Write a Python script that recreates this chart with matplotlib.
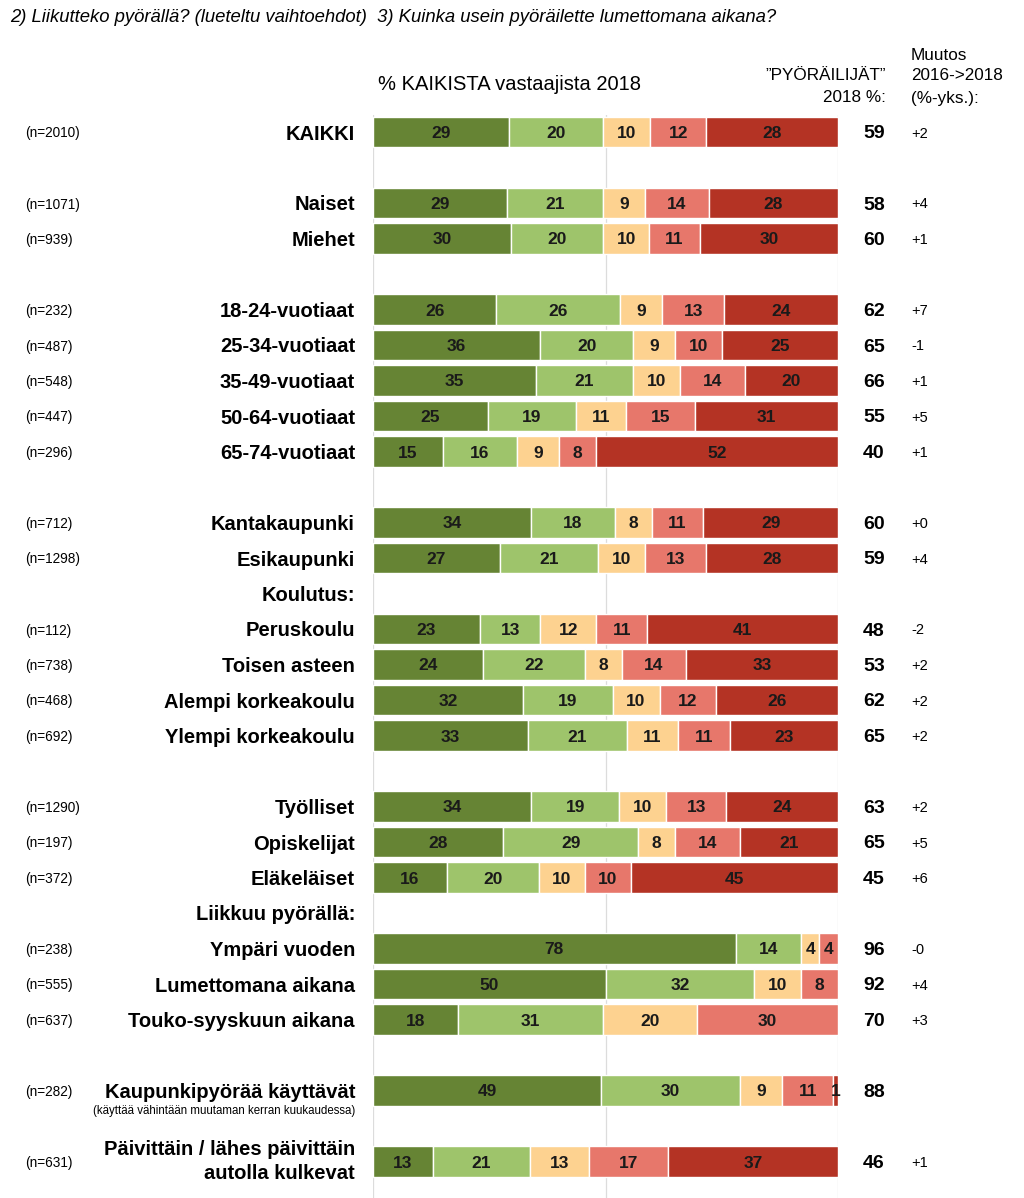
import matplotlib
matplotlib.use("Agg")
import matplotlib.pyplot as plt
from matplotlib import font_manager as fm

names = {f.name for f in fm.fontManager.ttflist}
NARROW = "Liberation Sans Narrow" if "Liberation Sans Narrow" in names else "Liberation Sans"
plt.rcParams['font.family'] = ['Liberation Sans', 'DejaVu Sans']

# ---------------- data ----------------
labels = ["KAIKKI", "Naiset", "Miehet", "18-24-vuotiaat", "25-34-vuotiaat",
          "35-49-vuotiaat", "50-64-vuotiaat", "65-74-vuotiaat", "Kantakaupunki",
          "Esikaupunki", "Peruskoulu", "Toisen asteen", "Alempi korkeakoulu",
          "Ylempi korkeakoulu", "Työlliset", "Opiskelijat", "Eläkeläiset",
          "Ympäri vuoden", "Lumettomana aikana", "Touko-syyskuun aikana",
          "Kaupunkipyörää käyttävät", "Päivittäin / lähes päivittäin\nautolla kulkevat"]
rows = [0, 2, 3, 5, 6, 7, 8, 9, 11, 12, 14, 15, 16, 17, 19, 20, 21, 23, 24, 25, 27, 29]
n_values = [2010, 1071, 939, 232, 487, 548, 447, 296, 712, 1298, 112, 738, 468, 692,
            1290, 197, 372, 238, 555, 637, 282, 631]
s1 = [29, 29, 30, 26, 36, 35, 25, 15, 34, 27, 23, 24, 32, 33, 34, 28, 16, 78, 50, 18, 49, 13]
s2 = [20, 21, 20, 26, 20, 21, 19, 16, 18, 21, 13, 22, 19, 21, 19, 29, 20, 14, 32, 31, 30, 21]
s3 = [10, 9, 10, 9, 9, 10, 11, 9, 8, 10, 12, 8, 10, 11, 10, 8, 10, 4, 10, 20, 9, 13]
s4 = [12, 14, 11, 13, 10, 14, 15, 8, 11, 13, 11, 14, 12, 11, 13, 14, 10, 4, 8, 30, 11, 17]
s5 = [28, 28, 30, 24, 25, 20, 31, 52, 29, 28, 41, 33, 26, 23, 24, 21, 45, 0, 0, 0, 1, 37]
cyclists = [59, 58, 60, 62, 65, 66, 55, 40, 60, 59, 48, 53, 62, 65, 63, 65, 45, 96, 92, 70, 88, 46]
change = ["+2", "+4", "+1", "+7", "-1", "+1", "+5", "+1", "+0", "+4", "-2", "+2", "+2", "+2",
          "+2", "+5", "+6", "-0", "+4", "+3", "", "+1"]
section_labels = ["Koulutus:", "Liikkuu pyörällä:"]
section_rows = [13, 22]

colors = ["#668434", "#9ec46b", "#fdd290", "#e7776b", "#b43324"]

# ---------------- figure ----------------
W, H = 1024, 1198
fig = plt.figure(figsize=(W / 100, H / 100), dpi=100)
x0, x1 = 373, 838
top_px, bot_px = 115, 1198
row0, step = 132, 35.5
ax = fig.add_axes([x0 / W, 1 - bot_px / H, (x1 - x0) / W, (bot_px - top_px) / H])
ax.set_xlim(0, 100)
ax.set_ylim((bot_px - row0) / step, (top_px - row0) / step)
ax.axis("off")

pxu = (x1 - x0) / 100.0  # pixels per data unit
def xu(px):
    return (px - x0) / pxu

for gx in (0, 50, 100):
    ax.axvline(gx, color="#dcdcdc", lw=0.9, zorder=0)

LABEL_FS = 14.5
series = [s1, s2, s3, s4, s5]
for i, r in enumerate(rows):
    vals = [s[i] for s in series]
    tot = sum(vals)
    left = 0.0
    for k, v in enumerate(vals):
        if v <= 0:
            continue
        w = v / tot * 100
        ax.barh(r, w, left=left, height=0.86, color=colors[k], edgecolor="white",
                linewidth=1.0, zorder=2)
        ax.text(left + w / 2, r, str(v), ha="center", va="center_baseline", fontsize=12.5,
                fontweight="bold", color="#1a1a1a", zorder=3, clip_on=False)
        left += w
    lab = labels[i]
    ax.text(xu(355), r, lab, ha="right", va="center" if "\n" in lab else "center_baseline",
            fontsize=LABEL_FS, fontweight="bold", linespacing=1.3, clip_on=False)
    ax.text(xu(25), r, f"(n={n_values[i]})", ha="left", va="center_baseline", fontsize=9.8,
            family=[NARROW, "DejaVu Sans"], clip_on=False)
    ax.text(xu(874), r, str(cyclists[i]), ha="center", va="center_baseline", fontsize=14,
            fontweight="bold", clip_on=False)
    if change[i]:
        ax.text(xu(911), r, change[i], ha="left", va="center_baseline", fontsize=10.5,
                clip_on=False)

# subtitle for city bike row
ax.text(xu(355), 27 + 19 / step, "(käyttää vähintään muutaman kerran kuukaudessa)",
        ha="right", va="center_baseline", fontsize=8.3, family=[NARROW, "DejaVu Sans"],
        clip_on=False)

for lab, r in zip(section_labels, section_rows):
    ax.text(xu(355), r, lab, ha="right", va="center_baseline", fontsize=LABEL_FS,
            fontweight="bold", clip_on=False)

# headers (figure pixel coordinates)
def ft(xp, yp, s, **kw):
    fig.text(xp / W, 1 - yp / H, s, **kw)

ft(10, 18, "2) Liikutteko pyörällä? (lueteltu vaihtoehdot)  3) Kuinka usein pyöräilette lumettomana aikana?",
   ha="left", va="center", fontsize=13.3, style="italic", family=[NARROW, "DejaVu Sans"])
ft(510, 84, "% KAIKISTA vastaajista 2018", ha="center", va="center", fontsize=14.5,
   family=[NARROW, "DejaVu Sans"])
ft(886, 75, "\u201dPYÖRÄILIJÄT\u201d", ha="right", va="center", fontsize=12.3,
   family=[NARROW, "DejaVu Sans"])
ft(886, 97, "2018 %:", ha="right", va="center", fontsize=12.3, family=[NARROW, "DejaVu Sans"])
ft(911, 55, "Muutos", ha="left", va="center", fontsize=12.3, family=[NARROW, "DejaVu Sans"])
ft(911, 76, "2016->2018", ha="left", va="center", fontsize=12.3, family=[NARROW, "DejaVu Sans"])
ft(911, 98, "(%-yks.):", ha="left", va="center", fontsize=12.3, family=[NARROW, "DejaVu Sans"])

fig.savefig("out.png", dpi=100)
